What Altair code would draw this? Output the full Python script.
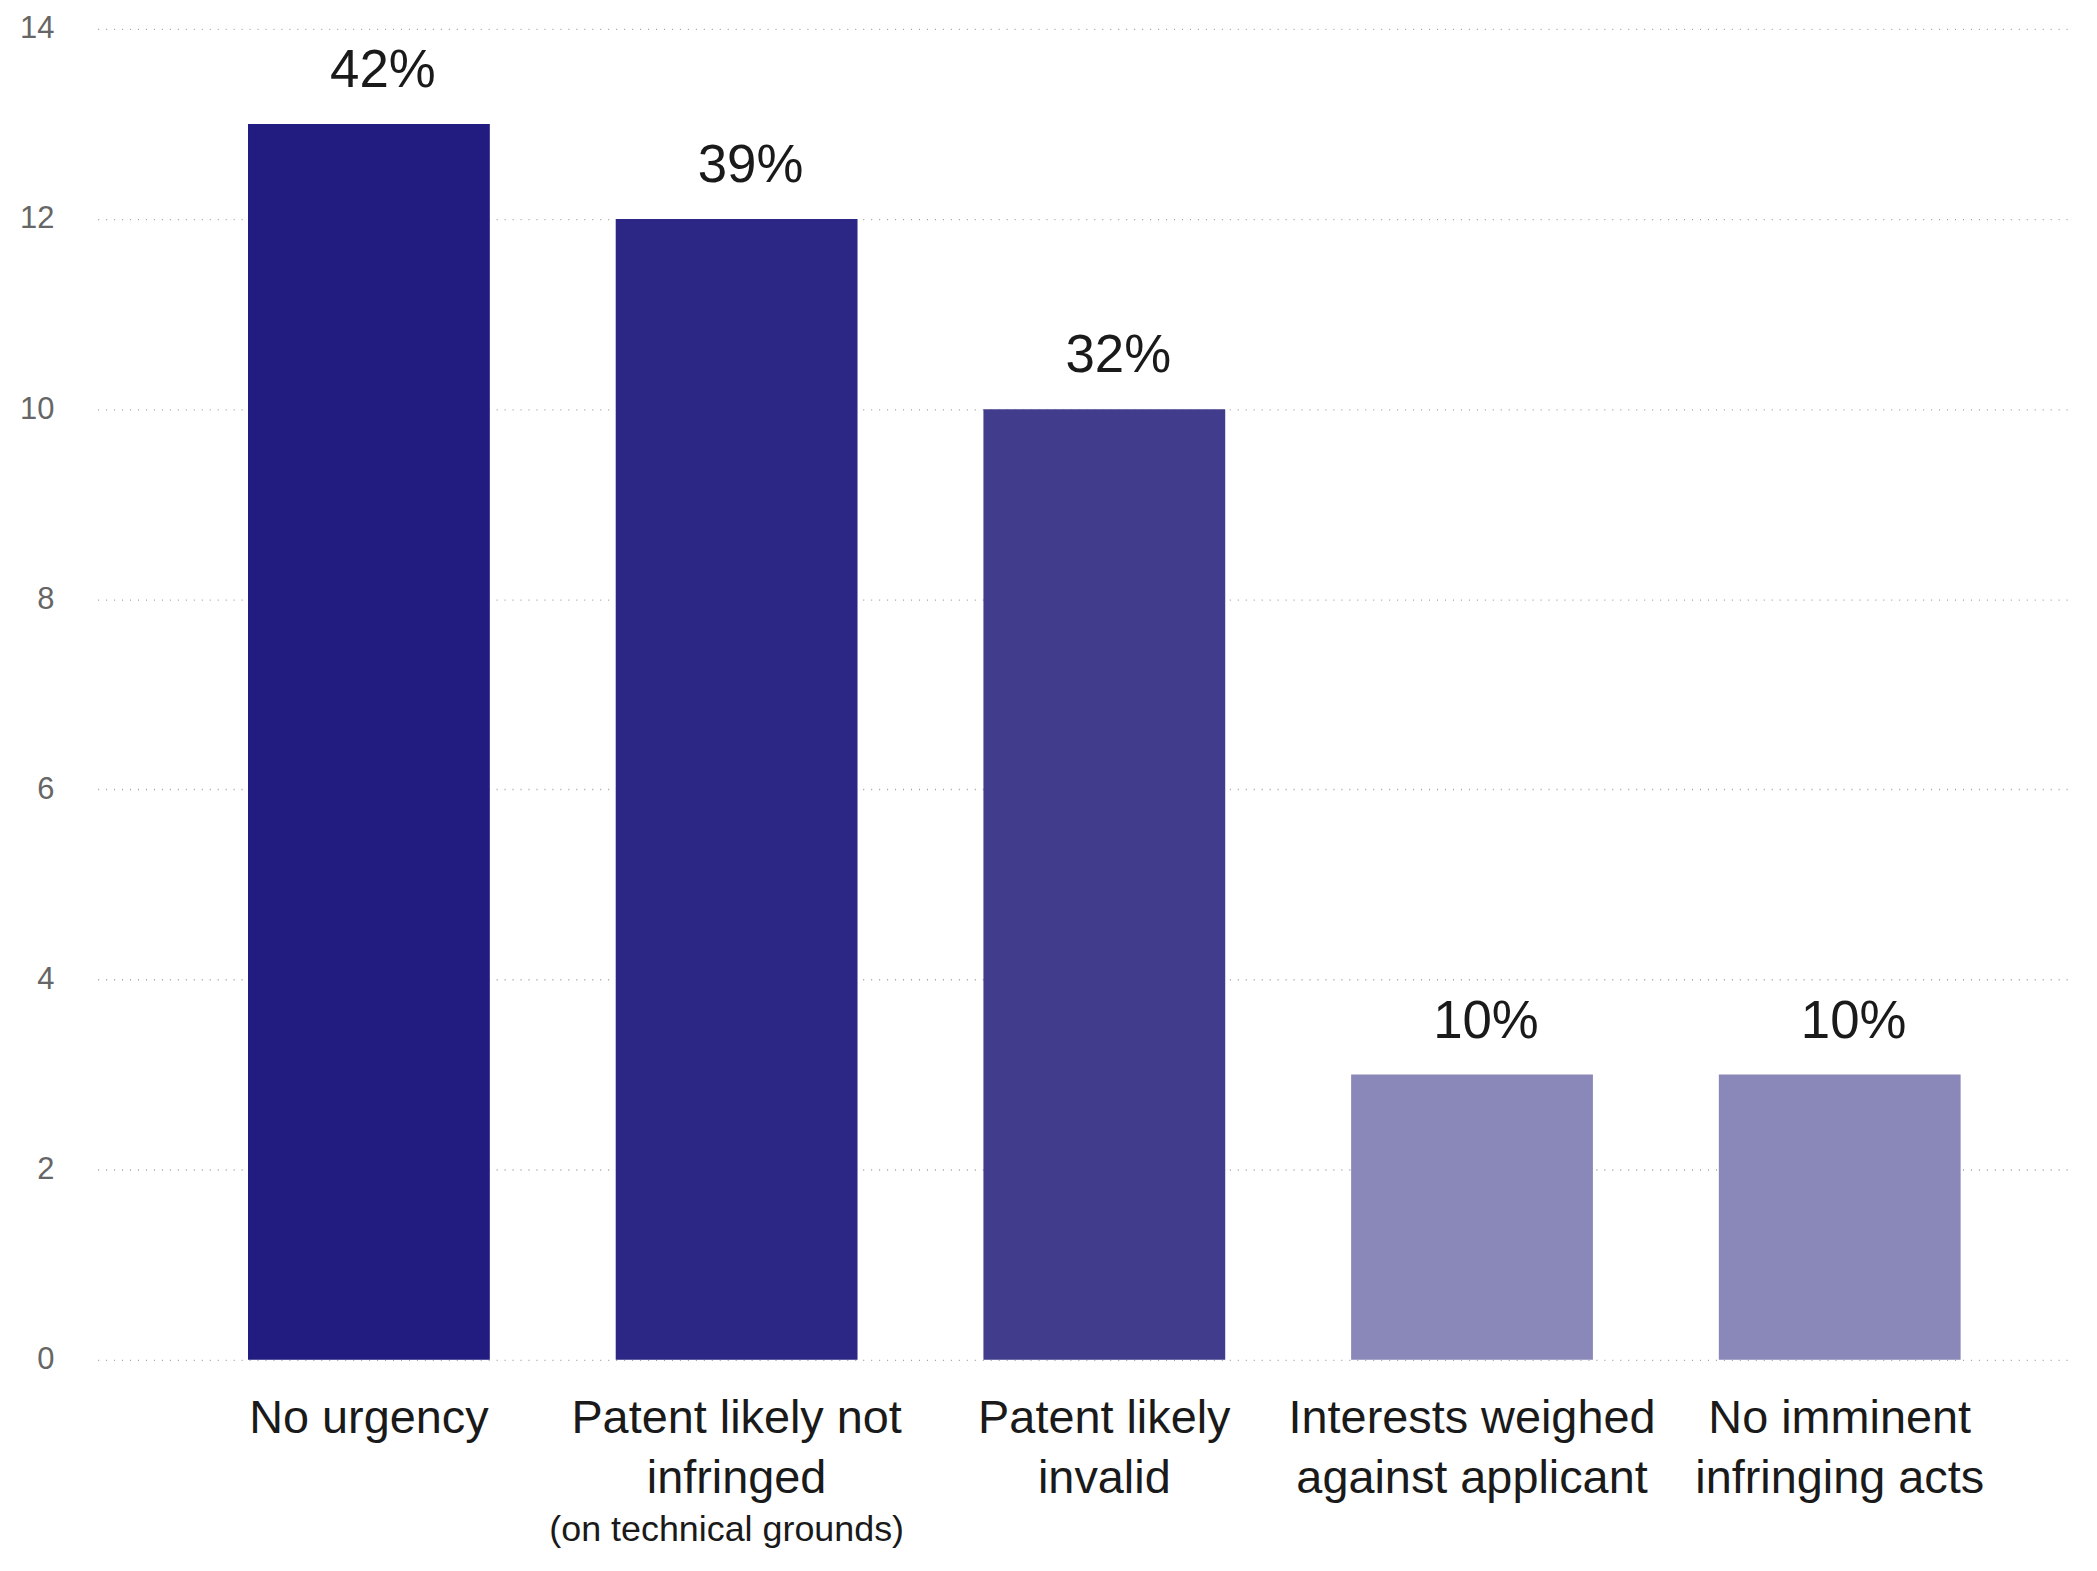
import altair as alt
import pandas as pd

categories = [
    "No urgency",
    "Patent likely not|infringed",
    "Patent likely|invalid",
    "Interests weighed|against applicant",
    "No imminent|infringing acts",
]
values = [13, 12, 10, 3, 3]
pct_labels = ["42%", "39%", "32%", "10%", "10%"]
bar_colors = ["#221b80", "#2c2785", "#413d8c", "#8a88b9", "#8a88b9"]
subtitle_cat = ["Patent likely not|infringed"]
subtitle_text = ["(on technical grounds)"]
y_ticks = [0, 2, 4, 6, 8, 10, 12, 14]

df = pd.DataFrame({"cat": categories, "value": values, "pct": pct_labels})
sub_df = pd.DataFrame({"cat": subtitle_cat, "text": subtitle_text})

FONT = "Liberation Sans"
W, H = 1984, 1336

x_scale = alt.Scale(domain=categories, paddingInner=0.3424, paddingOuter=0.3587, align=0.57)
x_enc = alt.X(
    "cat:N",
    scale=x_scale,
    sort=categories,
    axis=alt.Axis(
        title=None,
        labelExpr="split(datum.label, '|')",
        labelAngle=0,
        labelFontSize=47,
        labelColor="#1a1a1a",
        labelFont=FONT,
        labelLineHeight=60,
        labelPadding=36,
        ticks=False,
        domain=False,
        grid=False,
        labelLimit=0,
    ),
)

bars = alt.Chart(df).mark_bar().encode(
    x=x_enc,
    y=alt.Y(
        "value:Q",
        scale=alt.Scale(domain=[0, 14], nice=False),
        axis=alt.Axis(
            title=None,
            values=y_ticks,
            format="d",
            labelFontSize=31,
            labelColor="#666666",
            labelFont=FONT,
            labelPadding=44,
            ticks=False,
            domain=False,
            grid=True,
            gridColor="#a0a0a0",
            gridDash=[1, 7],
            gridWidth=1.3,
        ),
    ),
    color=alt.Color("cat:N", scale=alt.Scale(domain=categories, range=bar_colors), legend=None),
)

texts = alt.Chart(df).mark_text(
    baseline="alphabetic", align="center", dy=-37, dx=14, fontSize=53, font=FONT, color="#1a1a1a"
).encode(
    x=alt.X("cat:N", scale=x_scale, sort=categories),
    y=alt.Y("value:Q"),
    text="pct:N",
)

subtitle = alt.Chart(sub_df).mark_text(
    baseline="alphabetic", align="center", dx=-10, fontSize=36, font=FONT, color="#1a1a1a"
).encode(
    x=alt.X("cat:N", scale=x_scale, sort=categories),
    y=alt.value(H + 182),
    text="text:N",
)

chart = (
    alt.layer(bars, texts, subtitle)
    .properties(
        width=W,
        height=H,
        autosize=alt.AutoSizeParams(type="none"),
        padding={"left": 90, "top": 18, "right": 15, "bottom": 200},
        view=alt.ViewBackground(strokeWidth=0, strokeOpacity=0, fill="white"),
    )
    .configure_view(strokeWidth=0, strokeOpacity=0)
    .configure(font=FONT, background="white")
)

chart.save("out.html", embed_options={"renderer": "svg", "actions": False})
